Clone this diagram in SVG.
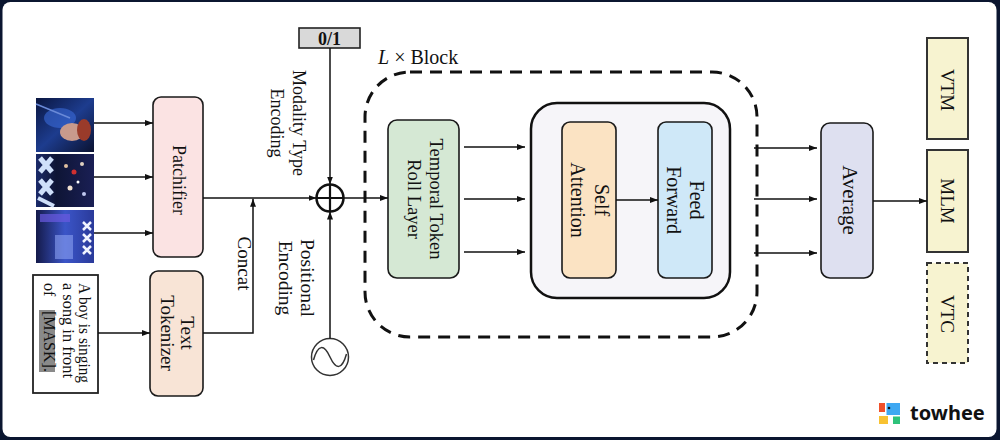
<svg xmlns="http://www.w3.org/2000/svg" width="1000" height="440" viewBox="0 0 1000 440">
<defs>
<style>
.box{stroke:#1a1a1a;stroke-width:1.6}
.lbl{font-family:"Liberation Serif","Times New Roman",serif;fill:#111;text-anchor:middle}
.ln{fill:none;stroke:#111;stroke-width:1.5}
.task{fill:#f7f3d0;stroke:#333;stroke-width:2}
</style>
<marker id="ah" markerWidth="8" markerHeight="6" refX="8" refY="3" orient="auto" markerUnits="userSpaceOnUse">
<path d="M0,0 L8,3 L0,6 z" fill="#111"/>
</marker>
<linearGradient id="g1" x1="0" y1="0" x2="1" y2="1">
<stop offset="0" stop-color="#0a1640"/><stop offset="0.5" stop-color="#1d3c8e"/><stop offset="1" stop-color="#0b1230"/>
</linearGradient>
<linearGradient id="g2" x1="0" y1="0" x2="1" y2="0">
<stop offset="0" stop-color="#1a2a6a"/><stop offset="0.35" stop-color="#0e1535"/><stop offset="1" stop-color="#1a1f55"/>
</linearGradient>
<linearGradient id="g3" x1="0" y1="0" x2="1" y2="0">
<stop offset="0" stop-color="#141a4a"/><stop offset="0.5" stop-color="#3b55c8"/><stop offset="1" stop-color="#2a3a9a"/>
</linearGradient>
</defs>
<rect x="0" y="0" width="1000" height="440" fill="#0b1630"/>
<rect x="2.5" y="2" width="994" height="435" rx="8" fill="#ffffff"/>

<g id="images">
<rect x="36" y="98" width="58" height="54" fill="url(#g1)"/>
<ellipse cx="60" cy="118" rx="16" ry="10" fill="#3a6ad8" opacity="0.6"/>
<ellipse cx="72" cy="132" rx="12" ry="9" fill="#c89a8c"/>
<ellipse cx="84" cy="130" rx="7" ry="11" fill="#9a3b2a"/>
<path d="M36,104 L70,118" stroke="#6a8ad8" stroke-width="1.5"/>
<rect x="36" y="154" width="58" height="53" fill="url(#g2)"/>
<path d="M40,158 L52,172 M52,158 L40,172 M40,180 L52,194 M52,180 L40,194" stroke="#cfe0fa" stroke-width="5"/>
<path d="M38,198 L54,206" stroke="#cfe0fa" stroke-width="4"/>
<circle cx="66" cy="166" r="2" fill="#e0c0a0"/><circle cx="74" cy="172" r="2.5" fill="#d03030"/><circle cx="82" cy="164" r="2" fill="#e0d0c0"/><circle cx="70" cy="188" r="2.5" fill="#f0e0d0"/><circle cx="84" cy="194" r="2" fill="#c0c8f0"/><circle cx="78" cy="182" r="1.5" fill="#ffffff"/>
<rect x="36" y="210" width="58" height="53" fill="url(#g3)"/>
<rect x="40" y="214" width="30" height="8" fill="#6a5ae0" opacity="0.7"/>
<rect x="55" y="235" width="18" height="24" fill="#8aa0f0" opacity="0.6"/>
<path d="M83,222 L91,230 M91,222 L83,230 M83,234 L91,242 M91,234 L83,242 M83,246 L91,254 M91,246 L83,254" stroke="#f0f4ff" stroke-width="2.5"/>
</g>

<g id="text-input">
<rect x="33" y="275" width="65" height="118" fill="#ffffff" stroke="#222" stroke-width="1.8"/>
<rect x="39" y="310" width="16" height="62" fill="#8a8a8a"/>
<g transform="translate(0,283) rotate(90)">
<text class="lbl" style="text-anchor:start" x="0" y="-79" font-size="16" textLength="100" lengthAdjust="spacingAndGlyphs">A boy is singing</text>
<text class="lbl" style="text-anchor:start" x="0" y="-63" font-size="16" textLength="95" lengthAdjust="spacingAndGlyphs">a song in front</text>
<text class="lbl" style="text-anchor:start" y="-44" font-size="16"><tspan x="0">of </tspan><tspan x="28">[MASK]</tspan><tspan>.</tspan></text>
</g>
</g>

<g id="patchifier">
<rect class="box" x="153" y="97" width="50" height="160" rx="8" fill="#fbe3e3"/>
<text class="lbl" font-size="18" transform="translate(173,180) rotate(90)">Patchifier</text>
</g>

<g id="text-tokenizer">
<rect class="box" x="150" y="271" width="53" height="125" rx="8" fill="#f8e4d6"/>
<text class="lbl" font-size="19" transform="translate(180.5,333) rotate(90)"><tspan x="0" y="0">Text</tspan><tspan x="0" y="20">Tokenizer</tspan></text>
</g>

<g id="concat-label">
<text class="lbl" font-size="19" transform="translate(237.5,263.5) rotate(90)">Concat</text>
</g>

<g id="modality">
<rect x="299" y="28" width="61" height="20" fill="#d9d9d9" stroke="#222" stroke-width="1.6"/>
<text class="lbl" font-size="18" font-weight="bold" x="329.5" y="44.5">0/1</text>
<text class="lbl" font-size="18" transform="translate(293,123) rotate(90)"><tspan x="0" y="0">Modality Type</tspan><tspan x="0" y="22">Encoding</tspan></text>
</g>

<g id="add">
<circle cx="330" cy="198" r="13.5" fill="#ffffff" stroke="#111" stroke-width="2.5"/>
<path d="M316.5,198 H343.5 M330,184.5 V211.5" stroke="#111" stroke-width="2.2"/>
</g>

<g id="positional">
<circle cx="330" cy="357" r="18.5" fill="#ffffff" stroke="#333" stroke-width="1.5"/>
<path d="M313.5,360 C318,344 324,344 330,357 C336,370 342,370 346.5,354" fill="none" stroke="#333" stroke-width="1.5"/>
<text class="lbl" font-size="19.5" transform="translate(301,278) rotate(90)"><tspan x="0" y="0">Positional</tspan><tspan x="0" y="22">Encoding</tspan></text>
</g>

<g id="block">
<rect x="365" y="72" width="392" height="265" rx="45" fill="none" stroke="#111" stroke-width="3" stroke-dasharray="12 8"/>
<text class="lbl" style="text-anchor:start" font-size="20" x="378" y="64"><tspan font-style="italic">L</tspan> × Block</text>
</g>

<g id="temporal">
<rect class="box" x="388" y="120" width="71" height="158" rx="9" fill="#d5e8d4"/>
<text class="lbl" font-size="18.5" transform="translate(429.5,199) rotate(90)"><tspan x="0" y="0">Temporal Token</tspan><tspan x="0" y="21.5">Roll Layer</tspan></text>
</g>

<g id="transformer">
<rect x="531" y="103" width="199" height="195" rx="26" fill="#f6f5f9" stroke="#111" stroke-width="2.5"/>
</g>

<g id="self-attention">
<rect class="box" x="562" y="122" width="54" height="156" rx="8" fill="#fbe3c3"/>
<text class="lbl" font-size="20" transform="translate(595,200) rotate(90)"><tspan x="0" y="0">Self</tspan><tspan x="0" y="24">Attention</tspan></text>
</g>

<g id="feed-forward">
<rect class="box" x="658" y="122" width="54" height="156" rx="8" fill="#cfe8f8"/>
<text class="lbl" font-size="20" transform="translate(690,200) rotate(90)"><tspan x="0" y="0">Feed</tspan><tspan x="0" y="23">Forward</tspan></text>
</g>

<g id="average">
<rect class="box" x="821" y="123" width="52" height="155" rx="9" fill="#dee0f0"/>
<text class="lbl" font-size="21" transform="translate(843,200) rotate(90)">Average</text>
</g>

<g id="vtm">
<rect class="task" x="927" y="38" width="41" height="101"/>
<text class="lbl" font-size="19" transform="translate(941,90) rotate(90)">VTM</text>
</g>
<g id="mlm">
<rect class="task" x="927" y="150" width="41" height="102"/>
<text class="lbl" font-size="19" transform="translate(941,201) rotate(90)">MLM</text>
</g>
<g id="vtc">
<rect class="task" x="927" y="263" width="41" height="100" stroke-dasharray="5 4"/>
<text class="lbl" font-size="19" transform="translate(941,314) rotate(90)">VTC</text>
</g>

<g id="connectors">
<path class="ln" d="M94,123 H153" marker-end="url(#ah)"/>
<path class="ln" d="M94,177 H153" marker-end="url(#ah)"/>
<path class="ln" d="M94,233 H153" marker-end="url(#ah)"/>
<path class="ln" d="M98,333 H150" marker-end="url(#ah)"/>
<path class="ln" d="M203,198 H316.5" marker-end="url(#ah)"/>
<path class="ln" d="M203,333 H253 V198.8" marker-end="url(#ah)"/>
<path class="ln" d="M330,48 V184.5" marker-end="url(#ah)"/>
<path class="ln" d="M330,338.5 V211.5" marker-end="url(#ah)"/>
<path class="ln" d="M344,198 H388" marker-end="url(#ah)"/>
<path class="ln" d="M464,147 H525" marker-end="url(#ah)"/>
<path class="ln" d="M464,199 H525" marker-end="url(#ah)"/>
<path class="ln" d="M464,252 H525" marker-end="url(#ah)"/>
<path class="ln" d="M616,200 H658" marker-end="url(#ah)"/>
<path class="ln" d="M754,148 H817" marker-end="url(#ah)"/>
<path class="ln" d="M754,199 H817" marker-end="url(#ah)"/>
<path class="ln" d="M754,253 H817" marker-end="url(#ah)"/>
<path class="ln" d="M873,201 H927" marker-end="url(#ah)"/>
</g>

<g id="logo">
<rect x="879" y="403" width="6" height="9" fill="#f0502a"/>
<rect x="886.5" y="403" width="13.5" height="12" fill="#3ea8f2"/>
<rect x="879" y="416" width="9" height="8" fill="#f8c232"/>
<rect x="893" y="416.5" width="7" height="7.5" fill="#2ec27a"/>
<circle cx="889" cy="408" r="1.3" fill="#111"/>
<text x="910" y="420" font-family="'Noto Sans','DejaVu Sans',sans-serif" font-weight="bold" font-size="20" fill="#111">towhee</text>
</g>
</svg>
